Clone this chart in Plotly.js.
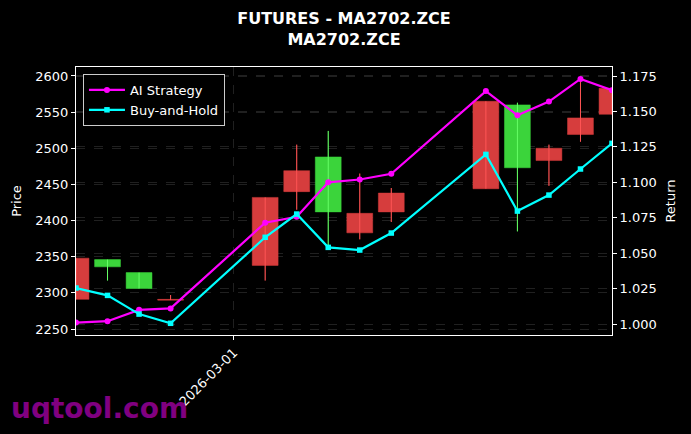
<!DOCTYPE html>
<html>
<head>
<meta charset="utf-8">
<script src="https://cdn.plot.ly/plotly-3.0.1.min.js"></script>
<style>
html,body{margin:0;padding:0;background:#000;}
#chart{width:691px;height:434px;}
</style>
</head>
<body>
<div id="chart"></div>
<script>
// ---- data ----
const dates = ['2026-02-24','2026-02-25','2026-02-26','2026-02-27','2026-03-02','2026-03-03','2026-03-04','2026-03-05','2026-03-06','2026-03-09','2026-03-10','2026-03-11','2026-03-12','2026-03-13'];
const openP  = [2348, 2336, 2306, 2291, 2432, 2469, 2412, 2410, 2438, 2565, 2473, 2500, 2542, 2583];
const highP  = [2348, 2346, 2328, 2297, 2432, 2505, 2524, 2465, 2445, 2565, 2563, 2505, 2597, 2583];
const lowP   = [2291, 2317, 2306, 2290, 2317, 2415, 2366, 2374, 2398, 2444, 2385, 2448, 2509, 2547];
const closeP = [2291, 2346, 2328, 2290, 2338, 2440, 2488, 2383, 2412, 2444, 2560, 2483, 2519, 2547];
const aiStrategy  = [1.001, 1.002, 1.010, 1.011, 1.0715, 1.0757, 1.100, 1.102, 1.106, 1.1644, 1.1473, 1.157, 1.173, 1.165];
const buyAndHold  = [1.0254, 1.0202, 1.0070, 1.0005, 1.0612, 1.0776, 1.0541, 1.0522, 1.0642, 1.1197, 1.0797, 1.091, 1.1094, 1.1275];
const xTickVals = ['2026-03-01'];
const xTickText = ['2026-03-01'];
const titleText = '<b>FUTURES - MA2702.ZCE<br>MA2702.ZCE</b>';

// wick segments built from the OHLC arrays
function wicks(up) {
  const x = [], y = [];
  for (let i = 0; i < dates.length; i++) {
    const isUp = closeP[i] >= openP[i];
    if (isUp === up) { x.push(dates[i], dates[i], null); y.push(lowP[i], highP[i], null); }
  }
  return {x, y};
}
const wUp = wicks(true), wDn = wicks(false);

const FONT = 'DejaVu Sans, sans-serif';
const traces = [
  {
    type: 'candlestick', x: dates, open: openP, high: highP, low: lowP, close: closeP,
    xaxis: 'x', yaxis: 'y', showlegend: false, hoverinfo: 'skip',
    increasing: {fillcolor: '#3bd43b', line: {color: '#3bd43b', width: 0.5}},
    decreasing: {fillcolor: '#d63d3d', line: {color: '#d63d3d', width: 0.5}}
  },
  {type: 'scatter', mode: 'lines', x: wUp.x, y: wUp.y, line: {color: '#66ff66', width: 1}, showlegend: false, hoverinfo: 'skip', yaxis: 'y'},
  {type: 'scatter', mode: 'lines', x: wDn.x, y: wDn.y, line: {color: '#ff5555', width: 1}, showlegend: false, hoverinfo: 'skip', yaxis: 'y'},
  {
    type: 'scatter', mode: 'lines+markers', name: 'AI Strategy', x: dates, y: aiStrategy, yaxis: 'y2',
    line: {color: '#ff00ff', width: 2.2}, marker: {symbol: 'circle', size: 6, color: '#ff00ff'}
  },
  {
    type: 'scatter', mode: 'lines+markers', name: 'Buy-and-Hold', x: dates, y: buyAndHold, yaxis: 'y2',
    line: {color: '#00ffff', width: 2.2}, marker: {symbol: 'square', size: 5.5, color: '#00ffff'}
  }
];

const gridStyle = {gridcolor: 'rgba(150,150,150,0.35)', griddash: 'dash', gridwidth: 0.6};
const layout = {
  width: 691, height: 434,
  paper_bgcolor: '#000', plot_bgcolor: '#000',
  font: {family: FONT, color: '#ffffff', size: 13},
  margin: {l: 76, r: 79, t: 67, b: 99, pad: 0},
  boxgap: 0.18, boxgroupgap: 0,
  title: {text: titleText, x: 0.5, xref: 'paper', xanchor: 'center', y: 0.945, yref: 'container', yanchor: 'top',
          font: {family: FONT, size: 16, color: '#ffffff'}},
  showlegend: true,
  legend: {x: 0.013, y: 0.974, xanchor: 'left', yanchor: 'top', bgcolor: '#000000', bordercolor: '#cccccc', borderwidth: 1,
           font: {family: FONT, size: 13, color: '#ffffff'}, itemwidth: 36},
  xaxis: Object.assign({
    type: 'date', range: ['2026-02-24', '2026-03-13'], rangeslider: {visible: false},
    tickmode: 'array', tickvals: xTickVals, ticktext: xTickText, tickangle: -45,
    ticks: 'outside', ticklen: 4, tickcolor: '#ffffff', showline: true, linecolor: '#ffffff', linewidth: 1, mirror: true,
    showgrid: true, zeroline: false, tickfont: {size: 13}
  }, gridStyle),
  yaxis: Object.assign({
    range: [2241.7, 2612.4], tickvals: [2250, 2300, 2350, 2400, 2450, 2500, 2550, 2600],
    ticks: 'outside', ticklen: 4, tickcolor: '#ffffff', showline: true, linecolor: '#ffffff', linewidth: 1, mirror: true,
    zeroline: false, title: {text: 'Price', standoff: 10, font: {size: 13}}, tickfont: {size: 13}
  }, gridStyle),
  yaxis2: Object.assign({
    overlaying: 'y', side: 'right', range: [0.99224, 1.1814],
    tickvals: [1.000, 1.025, 1.050, 1.075, 1.100, 1.125, 1.150, 1.175], tickformat: '.3f',
    ticks: 'outside', ticklen: 4, tickcolor: '#ffffff', showline: true, linecolor: '#ffffff', linewidth: 1,
    zeroline: false, title: {text: 'Return', standoff: 10, font: {size: 13}}, tickfont: {size: 13}
  }, gridStyle),
  annotations: [{
    text: '<b>uqtool.com</b>', xref: 'paper', yref: 'paper', x: -0.125, y: -0.275, xanchor: 'left', yanchor: 'middle',
    showarrow: false, font: {family: FONT, size: 28, color: '#800080'}
  }]
};

Plotly.newPlot('chart', traces, layout, {staticPlot: true, displayModeBar: false});
</script>
</body>
</html>
